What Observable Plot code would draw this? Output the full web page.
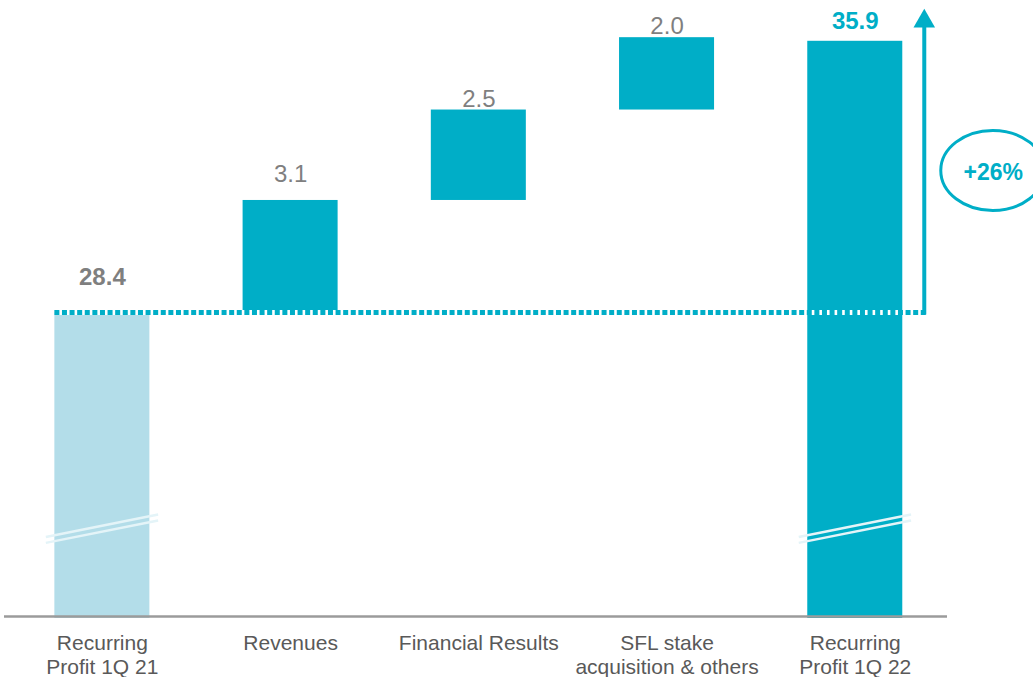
<!DOCTYPE html>
<html><head><meta charset="utf-8">
<script src="https://cdn.jsdelivr.net/npm/d3@7"></script>
<script src="https://cdn.jsdelivr.net/npm/@observablehq/plot@0.6"></script>
<style>
html,body{margin:0;padding:0;background:#fff;}
#chart svg{display:block;}
</style>
</head><body><div id="chart"></div>
<script>
// ---- data ----
const categories = ["Recurring\nProfit 1Q 21", "Revenues", "Financial Results", "SFL stake\nacquisition & others", "Recurring\nProfit 1Q 22"];
const values = [28.4, 3.1, 2.5, 2.0, 35.9];
const kinds = ["total", "delta", "delta", "delta", "total"];
const valueLabels = ["28.4", "3.1", "2.5", "2.0", "35.9"];
const axisStart = 20; // truncated (broken) value axis starts here
const changeLabel = "+" + Math.round((values[4] / values[0] - 1) * 100) + "%";

// ---- styles ----
const teal = "#00AEC7";
const light = "#B3DDE9";
const greyLabel = "#7F7F7F";
const axisText = "#595959";
const hw = 0.2524;
const labelDy = [-28, -18, -3, -4, -12];
const labelStyle = [
  {fill: greyLabel, fontWeight: "bold"},
  {fill: greyLabel, fontWeight: "normal"},
  {fill: greyLabel, fontWeight: "normal"},
  {fill: greyLabel, fontWeight: "normal"},
  {fill: teal, fontWeight: "bold"}
];

// waterfall table
let run = 0;
const rows = categories.map((c, i) => {
  let y1, y2;
  if (kinds[i] === "total") { y1 = axisStart; y2 = values[i]; run = values[i]; }
  else { y1 = run; y2 = run + values[i]; run = y2; }
  return {i, cat: c, kind: kinds[i], y1, y2, fill: i === 0 ? light : teal};
});
const totals = rows.filter(d => d.kind === "total");
const deltas = rows.filter(d => d.kind === "delta");
const lastIdx = rows.length - 1;
const startVal = values[0], endVal = values[lastIdx];
const mid = (startVal + endVal) / 2;

// break marks (two slanted lines on each truncated total bar)
const breakLines = totals.flatMap(d => [0, 1].map(k => ({
  x1: d.i - hw - 0.048, x2: d.i + hw + 0.044,
  y1: 22.2 - k * 0.165, y2: 22.82 - k * 0.165
})));

const plot = Plot.plot({
  width: 1033,
  height: 677,
  marginTop: 1,
  marginBottom: 61,
  marginLeft: 4,
  marginRight: 86,
  x: {domain: [-0.52, 4.49], axis: null},
  y: {domain: [axisStart, 37], axis: null},
  color: {type: "identity"},
  style: {fontFamily: "'Liberation Sans', Arial, sans-serif", background: "#fff"},
  marks: [
    Plot.rectY(totals, {
      x1: d => d.i - hw, x2: d => d.i + hw, y1: "y1", y2: "y2",
      fill: "fill", insetBottom: -2
    }),
    Plot.rectY(deltas, {
      x1: d => d.i - hw, x2: d => d.i + hw, y1: "y1", y2: "y2",
      fill: "fill"
    }),
    Plot.link(breakLines, {x1: "x1", x2: "x2", y1: "y1", y2: "y2", stroke: "#E4F4F8", strokeWidth: 2.5}),
    // axis baseline
    Plot.ruleY([axisStart], {stroke: "#9B9B9B", strokeWidth: 2.5}),
    // dotted reference line at start value
    Plot.ruleY([startVal], {y: d => d, x1: () => -hw, x2: () => lastIdx, insetRight: -71, stroke: "white", strokeWidth: 5}),
    Plot.ruleY([startVal], {y: d => d, x1: () => -hw, x2: () => lastIdx, insetRight: -71, stroke: teal, strokeWidth: 5, strokeDasharray: "5,2.6"}),
    // growth arrow
    Plot.ruleX([lastIdx], {x: d => d, y1: () => endVal, y2: () => startVal, dx: 69, insetTop: -15, insetBottom: -2.5, stroke: teal, strokeWidth: 4}),
    Plot.dot([lastIdx], {x: d => d, y: () => endVal, dx: 69, dy: -20, symbol: "triangle", r: 8, fill: teal, stroke: "none"}),
    // change label
    Plot.text([changeLabel], {x: () => lastIdx, y: () => mid, dx: 138, dy: -4, text: d => d, fill: teal, fontWeight: "bold", fontSize: 23}),
    // value labels
    ...rows.map(d => Plot.text([d], {
      x: "i", y: "y2", text: r => valueLabels[r.i], lineAnchor: "bottom", dy: labelDy[d.i],
      fontSize: 24, ...labelStyle[d.i]
    })),
    // category labels
    Plot.text(rows, {x: "i", y: () => axisStart, text: d => categories[d.i], lineAnchor: "top", dy: 16, fontSize: 21, lineHeight: 1.15, fill: axisText})
  ]
});

// ellipse around change label (positioned with the plot's scales)
const xs = plot.scale("x"), ys = plot.scale("y");
d3.select(plot).append("ellipse")
  .attr("cx", xs.apply(lastIdx) + 138)
  .attr("cy", ys.apply(mid) - 6)
  .attr("rx", 52).attr("ry", 40)
  .attr("fill", "none").attr("stroke", teal).attr("stroke-width", 3);

document.getElementById("chart").appendChild(plot);
</script>
</body></html>
